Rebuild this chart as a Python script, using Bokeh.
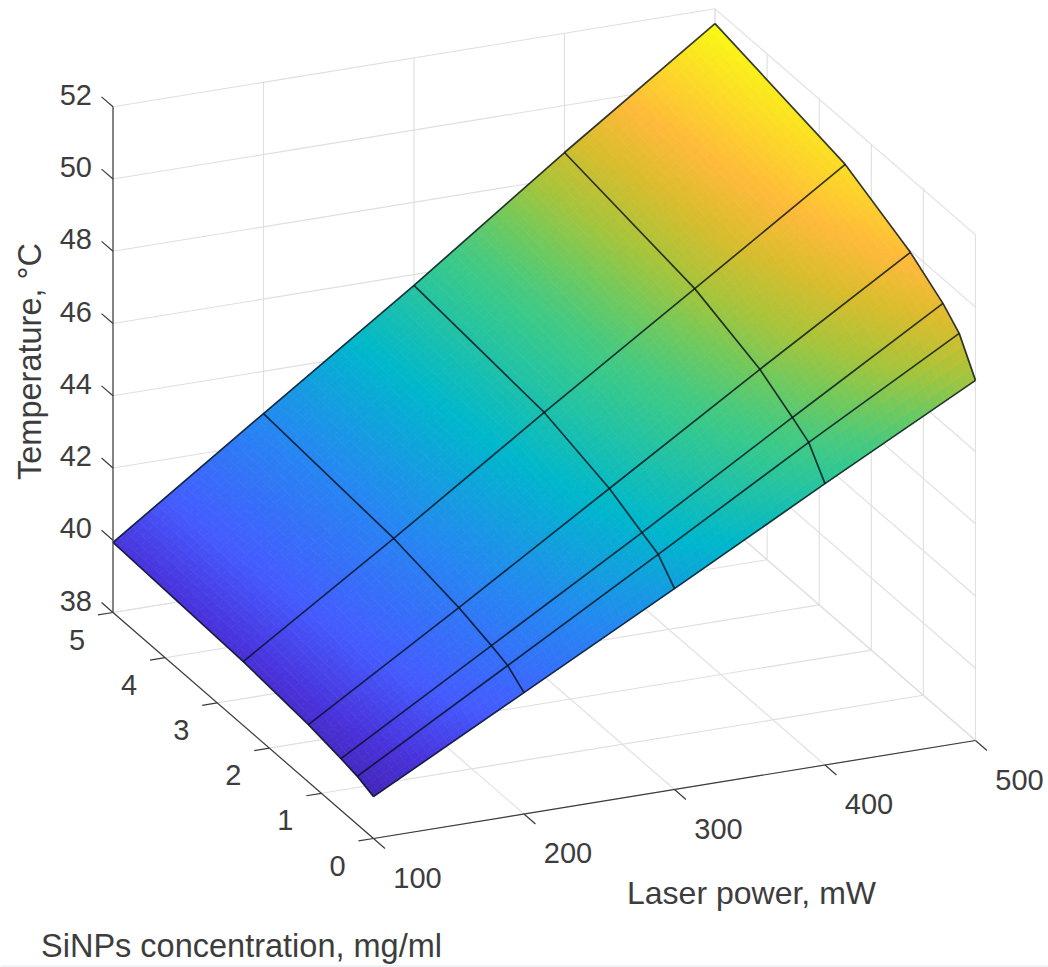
from bokeh.plotting import figure
from bokeh.models import Range1d
from bokeh.core.properties import value
from bokeh.embed import file_html
from bokeh.resources import INLINE
import numpy as np

# ---- data ----
laser_power = [100, 200, 300, 400, 500]
concentration = [0, 0.3125, 0.625, 1.25, 2.5, 5]
temp_at_100mW = [39.16, 39.33, 39.43, 39.59, 39.77, 39.94]
temp_at_200mW = [41.36, 41.72, 41.88, 42.15, 42.50, 42.83]
temp_at_300mW = [43.56, 44.12, 44.33, 44.77, 45.31, 45.70]
temp_at_400mW = [45.79, 46.54, 46.84, 47.39, 48.06, 48.70]
temp_at_500mW = [47.97, 48.88, 49.32, 49.95, 50.82, 51.59]
power_ticks = [100, 200, 300, 400, 500]
conc_ticks = [0, 1, 2, 3, 4, 5]
temp_ticks = [38, 40, 42, 44, 46, 48, 50, 52]
xlabel = "Laser power, mW"
ylabel = "SiNPs concentration, mg/ml"
zlabel = "Temperature, °C"

ramp_pos = [0.0, 0.06, 0.143, 0.286, 0.429, 0.571, 0.60, 0.66, 0.72, 0.79, 0.857, 1.0]
ramp_rgb = [(0.27, 0.15, 0.72), (0.29, 0.20, 0.86), (0.27, 0.36, 1.0), (0.15, 0.53, 0.95),
            (0.0, 0.72, 0.80), (0.22, 0.79, 0.55), (0.28, 0.79, 0.50), (0.45, 0.79, 0.36),
            (0.66, 0.77, 0.23), (0.85, 0.74, 0.18), (1.0, 0.73, 0.23), (0.98, 0.98, 0.08)]

Z = np.array([temp_at_100mW, temp_at_200mW, temp_at_300mW, temp_at_400mW, temp_at_500mW])

# ---- orthographic view of the 3-D box ----
def project(x, c, z):
    x, c, z = np.asarray(x, float), np.asarray(c, float), np.asarray(z, float)
    return (373 + 1.505 * (x - 100) - 52.1 * c,
            838 - 0.245 * (x - 100) - 45.2 * c - 36.12 * (z - 38))

def colour(t):
    stops = np.array(ramp_rgb)
    rgb = np.stack([np.interp(t, ramp_pos, stops[:, k]) for k in range(3)], axis=-1)
    rgb = np.clip(rgb * 255, 0, 255).astype(int)
    return ["#%02x%02x%02x" % tuple(v) for v in rgb]

p = figure(width=1048, height=967, x_range=Range1d(0, 1048), y_range=Range1d(967, 0),
           output_backend="svg", toolbar_location=None, min_border=0,
           background_fill_color="white", border_fill_color="white")
p.xaxis.visible = False
p.yaxis.visible = False
p.grid.visible = False
p.outline_line_color = None

XMIN, XMAX, CMIN, CMAX, ZMIN, ZMAX = 100, 500, 0, 5, 38, 52
GRID, AXIS, TEXT = "#dfdfdf", "#3c3c3c", "#3d3d3d"

p.quad(left=0, right=1048, top=967, bottom=964.5, fill_color="#eff5f4", line_color=None)

def seg(x0, c0, z0, x1, c1, z1):
    a, b = project(x0, c0, z0), project(x1, c1, z1)
    return [float(a[0]), float(b[0])], [float(a[1]), float(b[1])]

grid = []
for x in power_ticks:
    grid.append(seg(x, CMIN, ZMIN, x, CMAX, ZMIN))
    grid.append(seg(x, CMAX, ZMIN, x, CMAX, ZMAX))
for c in conc_ticks:
    grid.append(seg(XMIN, c, ZMIN, XMAX, c, ZMIN))
    grid.append(seg(XMAX, c, ZMIN, XMAX, c, ZMAX))
for z in temp_ticks:
    grid.append(seg(XMIN, CMAX, z, XMAX, CMAX, z))
    grid.append(seg(XMAX, CMAX, z, XMAX, CMIN, z))
p.multi_line([g[0] for g in grid], [g[1] for g in grid], line_color=GRID, line_width=1.1)

# surface: each mesh cell is painted in small facets for the smooth colour ramp
zmin, zmax = Z.min(), Z.max()
sub_x = 24
sub_c = [4, 4, 8, 14, 26]
xs_p, ys_p, cols = [], [], []
for i in range(len(laser_power) - 1):
    for j in range(len(concentration) - 1):
        u = np.linspace(0, 1, sub_x + 1)
        v = np.linspace(0, 1, sub_c[j] + 1)
        U, V = np.meshgrid(u, v, indexing="ij")
        ZZ = (Z[i, j] * (1 - U) * (1 - V) + Z[i + 1, j] * U * (1 - V)
              + Z[i, j + 1] * (1 - U) * V + Z[i + 1, j + 1] * U * V)
        XX = laser_power[i] + U * (laser_power[i + 1] - laser_power[i])
        CC = concentration[j] + V * (concentration[j + 1] - concentration[j])
        SX, SY = project(XX, CC, ZZ)
        for a in range(sub_x):
            for b in range(sub_c[j]):
                xs_p.append([SX[a, b], SX[a + 1, b], SX[a + 1, b + 1], SX[a, b + 1]])
                ys_p.append([SY[a, b], SY[a + 1, b], SY[a + 1, b + 1], SY[a, b + 1]])
                cols.append((ZZ[a:a + 2, b:b + 2].mean() - zmin) / (zmax - zmin))
hexes = colour(np.array(cols))
p.patches(xs_p, ys_p, fill_color=hexes, line_color=hexes, line_width=0.8)

# mesh lines
mesh_x, mesh_y = [], []
for i in range(len(laser_power)):
    sx, sy = project([laser_power[i]] * len(concentration), concentration, Z[i])
    mesh_x.append(sx.tolist()); mesh_y.append(sy.tolist())
for j in range(len(concentration)):
    sx, sy = project(laser_power, [concentration[j]] * len(laser_power), Z[:, j])
    mesh_x.append(sx.tolist()); mesh_y.append(sy.tolist())
p.multi_line(mesh_x, mesh_y, line_color="#06101c", line_width=1.7, line_alpha=0.8)

# box axes and ticks
axes = [seg(XMIN, CMIN, ZMIN, XMAX, CMIN, ZMIN),
        seg(XMIN, CMIN, ZMIN, XMIN, CMAX, ZMIN),
        seg(XMIN, CMAX, ZMIN, XMIN, CMAX, ZMAX)]
for x in power_ticks:
    axes.append(seg(x, CMIN, ZMIN, x, CMIN - 0.22, ZMIN))
for c in conc_ticks:
    axes.append(seg(XMIN, c, ZMIN, XMIN - 10, c, ZMIN))
for z in temp_ticks:
    axes.append(seg(XMIN, CMAX, z, XMIN, CMAX + 0.22, z))
p.multi_line([a[0] for a in axes], [a[1] for a in axes], line_color=AXIS, line_width=1.2)

def label(xs, ys, texts, size, align="center", angle=0.0):
    p.text(xs, ys, text=texts, text_font=value("Liberation Sans"), text_font_size=size,
           text_color=TEXT, text_align=align, text_baseline="middle", angle=angle)

tx, ty = project(power_ticks, [CMIN] * len(power_ticks), [ZMIN] * len(power_ticks))
label((tx + 44).tolist(), (ty + 39).tolist(), [str(v) for v in power_ticks], "29px")
tx, ty = project([XMIN] * len(conc_ticks), conc_ticks, [ZMIN] * len(conc_ticks))
label((tx - 36).tolist(), (ty + 27).tolist(), [str(v) for v in conc_ticks], "29px")
tx, ty = project([XMIN] * len(temp_ticks), [CMAX] * len(temp_ticks), temp_ticks)
label((tx - 21).tolist(), (ty - 12).tolist(), [str(v) for v in temp_ticks], "29px", align="right")

label([751], [892], [xlabel], "32px")
label([241], [945], [ylabel], "32.5px")
label([29], [361], [zlabel], "32.5px", angle=np.pi / 2)

open("out.html", "w").write(file_html(p, INLINE))
